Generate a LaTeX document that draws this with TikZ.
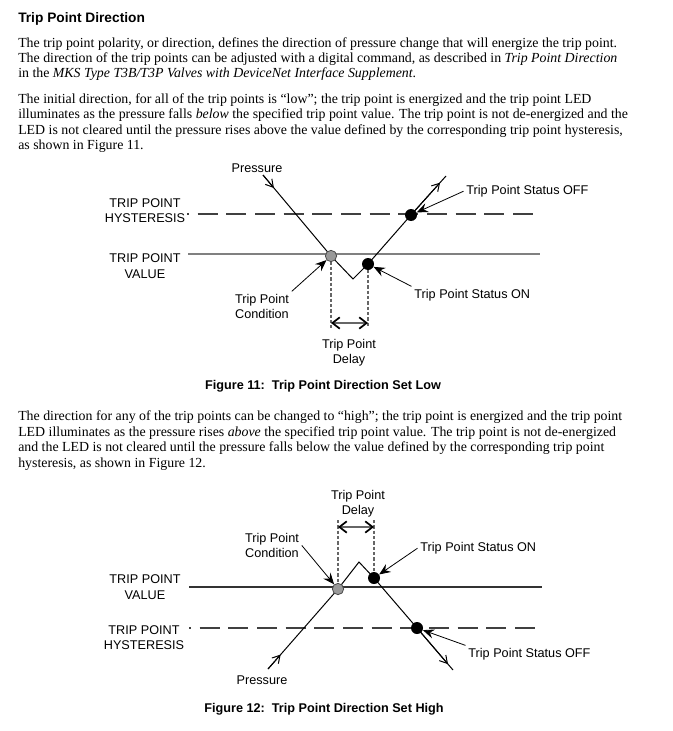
\documentclass[tikz,border=0pt]{standalone}
\usepackage{fontspec}
\setmainfont{Liberation Serif}
\setsansfont{Liberation Sans}
\usetikzlibrary{positioning,arrows.meta,calc,backgrounds}

\begin{document}
\begin{tikzpicture}[
    x=0.75pt, y=-0.75pt,
    body_text/.style={anchor=base west, align=left, inner sep=0pt, font=\fontsize{10.4}{11.6}\selectfont},
    heading/.style={anchor=base west, inner sep=0pt, font=\fontsize{10.3}{12}\selectfont\sffamily\bfseries},
    caption/.style={anchor=base, inner sep=0pt, font=\fontsize{9.5}{11}\selectfont\sffamily\bfseries},
    level_text/.style={anchor=base, align=center, inner sep=0pt, font=\fontsize{9.5}{11.3}\selectfont\sffamily},
    tag_text/.style={align=center, inner sep=2pt, font=\fontsize{9.5}{11.3}\selectfont\sffamily},
    dot_on/.style={circle, fill=black, inner sep=0pt, minimum size=9pt},
    dot_cond/.style={circle, draw=black!70, fill=black!40, line width=0.6pt, inner sep=0pt, minimum size=8.5pt},
    value_line/.style={line width=0.8pt},
    hyst_line/.style={black!75, line width=0.8pt, dash pattern=on 15pt off 6.5pt, dash phase=13.5pt},
    guide_line/.style={black!60, line width=0.8pt, dash pattern=on 2.5pt off 1.5pt},
    pressure_line/.style={line width=0.75pt},
    flow_arrow/.style={-{Straight Barb[length=5.5pt, width=6.5pt]}, line width=0.75pt},
    pointer/.style={-{Stealth[length=8.5pt, width=7pt, inset=3pt]}, line width=0.6pt},
    delay_arrow/.style={{Straight Barb[length=5.5pt, width=8.5pt, line width=1.3pt, color=black]}-{Straight Barb[length=5.5pt, width=8.5pt, line width=1.3pt, color=black]}, black!60, line width=0.9pt}
]
\useasboundingbox (0,0) rectangle (673,731);

% Page text
\node[heading] (title) at (18,23) {Trip Point Direction};
\node[body_text] (para_intro) at (18,78) {The trip point polarity, or direction, defines the direction of pressure change that will energize the trip point.\\
The direction of the trip points can be adjusted with a digital command, as described in \textit{Trip Point Direction}\\
in the \textit{MKS Type T3B/T3P Valves with DeviceNet Interface Supplement}.};
\node[body_text] (para_low) at (18,149.5) {The initial direction, for all of the trip points is “low”; the trip point is energized and the trip point LED\\
illuminates as the pressure falls \textit{below} the specified trip point value. The trip point is not de-energized and the\\
LED is not cleared until the pressure rises above the value defined by the corresponding trip point hysteresis,\\
as shown in Figure 11.};
\node[body_text] (para_high) at (18,467) {The direction for any of the trip points can be changed to “high”; the trip point is energized and the trip point\\
LED illuminates as the pressure rises \textit{above} the specified trip point value. The trip point is not de-energized\\
and the LED is not cleared until the pressure falls below the value defined by the corresponding trip point\\
hysteresis, as shown in Figure 12.};

% Figure 11: direction set low
\node[level_text] (hyst_tag_a) at (145,222.5) {TRIP POINT\\HYSTERESIS};
\node[level_text] (value_tag_a) at (145,278) {TRIP POINT\\VALUE};
\node[level_text] (pressure_tag_a) at (257,172.5) {Pressure};
\node[dot_cond] (cond_a) at (331,256) {};
\node[dot_on] (on_a) at (368,264) {};
\node[dot_on] (off_a) at (411,215) {};
\node[tag_text, anchor=base] (cond_tag_a) at (262,318.5) {Trip Point\\Condition};
\node[tag_text, anchor=base west] (on_tag_a) at (411.5,298.5) {Trip Point Status ON};
\node[tag_text, anchor=base west] (off_tag_a) at (463.5,194.5) {Trip Point Status OFF};
\node[tag_text, anchor=base] (delay_tag_a) at (349,363.5) {Trip Point\\Delay};
\node[caption] (caption_a) at (323,389) {Figure 11:\ \ Trip Point Direction Set Low};

\coordinate (press_start_a) at (263,175);
\coordinate (low_a) at (353,279);
\coordinate (rise_end_a) at (446,176);
\coordinate (guide_cond_a) at (331,328);
\coordinate (guide_on_a) at (368,328);

% Figure 12: direction set high
\node[level_text] (value_tag_b) at (145,599) {TRIP POINT\\VALUE};
\node[level_text] (hyst_tag_b) at (144,649.5) {TRIP POINT\\HYSTERESIS};
\node[level_text] (pressure_tag_b) at (262,684.5) {Pressure};
\node[dot_cond] (cond_b) at (338,589) {};
\node[dot_on] (on_b) at (374,578) {};
\node[dot_on] (off_b) at (417,628) {};
\node[tag_text, anchor=base] (cond_tag_b) at (272,557.5) {Trip Point\\Condition};
\node[tag_text, anchor=base west] (on_tag_b) at (417.5,551.5) {Trip Point Status ON};
\node[tag_text, anchor=base west] (off_tag_b) at (465.5,657.5) {Trip Point Status OFF};
\node[tag_text, anchor=base] (delay_tag_b) at (358,514.5) {Trip Point\\Delay};
\node[caption] (caption_b) at (324,712) {Figure 12:\ \ Trip Point Direction Set High};

\coordinate (press_start_b) at (268,669);
\coordinate (peak_b) at (359,562);
\coordinate (fall_end_b) at (453,670);
\coordinate (guide_cond_b) at (338,520);
\coordinate (guide_on_b) at (374,520);

% Levels, pressure traces and guides behind the dots
\begin{scope}[on background layer]
\fill[white] (0,0) rectangle (673,731);
\draw[value_line, black!50] (188,254) -- (540,254);
\draw[hyst_line] (187,214) -- (538,214);
\draw[pressure_line] (press_start_a) -- (cond_a.center) -- (low_a) -- (on_a.center) -- (off_a.center) -- (rise_end_a);
\draw[guide_line] (cond_a.center) -- (guide_cond_a);
\draw[guide_line] (on_a.center) -- (guide_on_a);

\draw[value_line, black!80] (189,587) -- (542,587);
\draw[hyst_line] (189,628) -- (543,628);
\draw[pressure_line] (press_start_b) -- (cond_b.center) -- (peak_b) -- (on_b.center) -- (off_b.center) -- (fall_end_b);
\draw[guide_line] (guide_cond_b) -- (cond_b.center);
\draw[guide_line] (guide_on_b) -- (on_b.center);
\end{scope}

% Direction arrows on the traces
\draw[flow_arrow] (press_start_a) -- ($(press_start_a)!0.16!(cond_a.center)$);
\draw[flow_arrow] (off_a.center) -- ($(off_a.center)!0.83!(rise_end_a)$);
\draw[flow_arrow] (press_start_b) -- ($(press_start_b)!0.18!(cond_b.center)$);
\draw[flow_arrow] (off_b.center) -- ($(off_b.center)!0.86!(fall_end_b)$);

% Delay spans
\draw[delay_arrow] ($(guide_cond_a)+(0,-5)$) -- ($(guide_on_a)+(0,-5)$);
\draw[delay_arrow] ($(guide_cond_b)+(0,7)$) -- ($(guide_on_b)+(0,7)$);

% Pointers from tags to dots
\draw[pointer] (cond_tag_a.north east) -- (cond_a);
\draw[pointer] (on_tag_a.north west) -- (on_a);
\draw[pointer] (off_tag_a.west) -- (off_a);
\draw[pointer] (cond_tag_b.east) -- (cond_b);
\draw[pointer] (on_tag_b.west) -- (on_b);
\draw[pointer] (off_tag_b.north west) -- (off_b);

\end{tikzpicture}
\end{document}
